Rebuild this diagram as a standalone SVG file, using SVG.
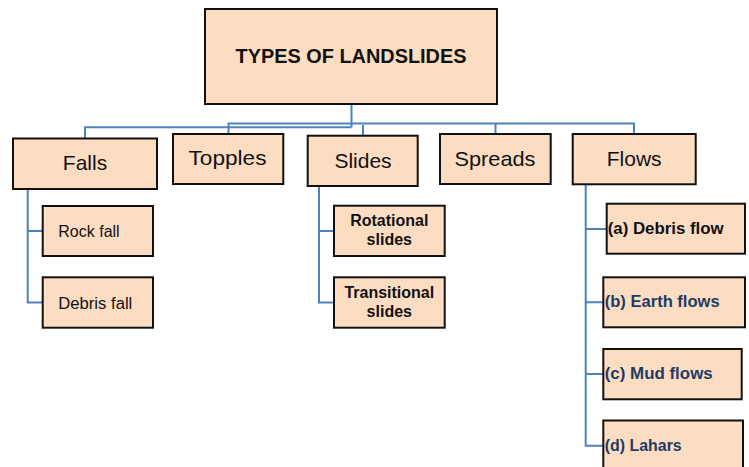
<svg xmlns="http://www.w3.org/2000/svg" width="749" height="467" viewBox="0 0 749 467">
  <style>
    .box { fill: #FCDDC2; stroke: #111; stroke-width: 2; }
    .conn { fill: none; stroke: #4F81BD; stroke-width: 2; }
    .t { font-family: "Liberation Sans", Arial, sans-serif; fill: #111; }
    .big { font-size: 21px; text-anchor: middle; }
    .sm { font-size: 16px; }
    .smb { font-size: 16px; font-weight: bold; text-anchor: middle; }
    .fl { font-size: 16.5px; font-weight: bold; }
    .navy { fill: #1F3B63; }
  </style>
  <rect width="749" height="467" fill="#fff"/>
  <g id="connectors">
    <path class="conn" d="M351.5 104 V127.3"/>
    <path class="conn" d="M85 138.3 V127.3 H351.5"/>
    <path class="conn" d="M228.5 134 V123.5 H634 V134"/>
    <path class="conn" d="M495.5 123.5 V134"/>
    <path class="conn" d="M363 125 V135.7"/>
    <path class="conn" d="M27.7 189 V302.5 H42.7 M27.7 231 H42.7"/>
    <path class="conn" d="M319 186 V302.5 H334 M319 231 H334"/>
    <path class="conn" d="M585.7 184.3 V445.7 H603.3 M585.7 229 H606.7 M585.7 302.3 H603.3 M585.7 374 H603.3"/>
  </g>
  <g id="title">
    <rect class="box" x="205" y="9" width="292" height="95"/>
    <text class="t" x="351" y="63" font-size="20" font-weight="bold" text-anchor="middle" textLength="231" lengthAdjust="spacingAndGlyphs">TYPES OF LANDSLIDES</text>
  </g>
  <g id="falls">
    <rect class="box" x="13" y="138.5" width="144" height="50.5"/>
    <text class="t big" x="85" y="170">Falls</text>
  </g>
  <g id="topples">
    <rect class="box" x="173" y="134" width="110.3" height="50"/>
    <text class="t big" x="227.5" y="165" textLength="78" lengthAdjust="spacingAndGlyphs">Topples</text>
  </g>
  <g id="slides">
    <rect class="box" x="307.7" y="135.7" width="110" height="50.3"/>
    <text class="t big" x="363" y="168.3">Slides</text>
  </g>
  <g id="spreads">
    <rect class="box" x="440" y="134" width="110.7" height="50"/>
    <text class="t big" x="495" y="165.7" textLength="81" lengthAdjust="spacingAndGlyphs">Spreads</text>
  </g>
  <g id="flows">
    <rect class="box" x="572.7" y="134" width="123" height="50.3"/>
    <text class="t big" x="634.2" y="165.7">Flows</text>
  </g>
  <g id="rockfall">
    <rect class="box" x="42.7" y="206" width="110.3" height="50"/>
    <text class="t sm" x="58.3" y="237">Rock fall</text>
  </g>
  <g id="debrisfall">
    <rect class="box" x="42.7" y="277.3" width="110.3" height="50.4"/>
    <text class="t sm" x="58.3" y="308.5" textLength="74" lengthAdjust="spacingAndGlyphs">Debris fall</text>
  </g>
  <g id="rotational">
    <rect class="box" x="334" y="205.7" width="110.7" height="50.3"/>
    <text class="t smb" x="389.3" y="226">Rotational</text>
    <text class="t smb" x="389.3" y="245">slides</text>
  </g>
  <g id="transitional">
    <rect class="box" x="334" y="277.3" width="110.7" height="50.4"/>
    <text class="t smb" x="389.3" y="298.3">Transitional</text>
    <text class="t smb" x="389.3" y="317">slides</text>
  </g>
  <g id="debrisflow">
    <rect class="box" x="606.7" y="203.7" width="138.3" height="50"/>
    <text class="t fl" x="607.7" y="234" textLength="116" lengthAdjust="spacingAndGlyphs">(a) Debris flow</text>
  </g>
  <g id="earthflows">
    <rect class="box" x="603.3" y="277.3" width="141.7" height="50"/>
    <text class="t fl navy" x="604.7" y="307.3" textLength="115" lengthAdjust="spacingAndGlyphs">(b) Earth flows</text>
  </g>
  <g id="mudflows">
    <rect class="box" x="603.3" y="349" width="138.4" height="50.3"/>
    <text class="t fl navy" x="604.7" y="379" textLength="108" lengthAdjust="spacingAndGlyphs">(c) Mud flows</text>
  </g>
  <g id="lahars">
    <rect class="box" x="603.3" y="420.5" width="139.7" height="52"/>
    <text class="t fl navy" x="604.7" y="451" textLength="77" lengthAdjust="spacingAndGlyphs">(d) Lahars</text>
  </g>
</svg>
